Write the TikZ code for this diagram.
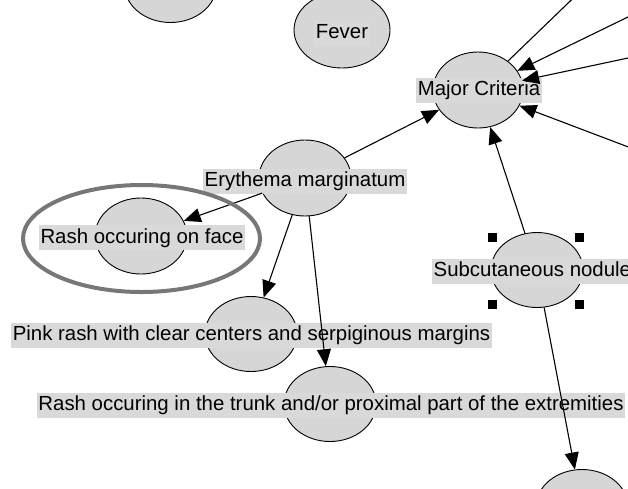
\documentclass[tikz,border=0pt]{standalone}
\usepackage{fontspec}
\setmainfont{Liberation Sans}
\usetikzlibrary{shapes.geometric,arrows.meta}
\definecolor{nodegray}{HTML}{D6D6D6}
\definecolor{labelgray}{HTML}{D9D9D9}
\definecolor{ringgray}{HTML}{777777}

\begin{document}
\begin{tikzpicture}[x=1pt,y=-1pt,
  state/.style={ellipse,draw=black,line width=0.9pt,fill=nodegray,
    minimum width=92pt,minimum height=75pt,inner sep=0pt},
  lbl/.style={fill=labelgray,inner xsep=1.5pt,inner ysep=3pt,
    text height=15pt,text depth=4pt,font=\fontsize{20.4}{23}\selectfont},
  link/.style={line width=1.1pt,-{Triangle[length=17pt,width=14pt]}},
  plain/.style={line width=1.1pt},
  handle/.style={fill=black,minimum size=9pt,inner sep=0pt},
  ring/.style={ellipse,draw=ringgray,line width=4pt,inner sep=0pt}
]
\useasboundingbox (0,0) rectangle (628,488);
\clip (0,0) rectangle (628,488);

% states
\node[state] (topleft) at (170.5,-15) {};
\node[state,minimum width=96pt,minimum height=76pt] (fever) at (342,30) {};
\node[state,minimum width=90pt,minimum height=76pt] (major) at (478,90) {};
\node[state,minimum height=76pt] (erythema) at (305,178) {};
\node[state,minimum height=76pt] (face) at (141,236) {};
\node[state] (pink) at (251,334) {};
\node[state] (trunk) at (330,404) {};
\node[state] (subcut) at (537,270) {};
\node[state] (lower) at (582,507) {};

% parents outside the visible area
\coordinate (u1) at (592,-20);
\coordinate (u2) at (660,1.4);
\coordinate (u3) at (660,51.2);
\coordinate (u4) at (660,159);

% labels
\node[lbl] (feverlbl) at (342,33) {Fever};
\node[lbl] (majorlbl) at (479,90) {Major Criteria};
\node[lbl] (erythemalbl) at (305,181) {Erythema marginatum};
\node[lbl] (facelbl) at (142,237.5) {Rash occuring on face};
\node[lbl] (pinklbl) at (251.5,335) {Pink rash with clear centers and serpiginous margins};
\node[lbl] (trunklbl) at (331,405) {Rash occuring in the trunk and/or proximal part of the extremities};
\node[lbl,anchor=west] (subcutlbl) at (432,271) {Subcutaneous nodule};

% links
\draw[plain] (u1) -- (major);
\draw[link] (u2) -- (major);
\draw[link] (u3) -- (major);
\draw[link] (u4) -- (major);
\draw[link] (erythema) -- (major);
\draw[link] (subcut) -- (major);
\draw[link] (erythema) -- (face);
\draw[link] (erythema) -- (pink);
\draw[link] (erythema) -- (trunk);
\draw[link] (subcut) -- (lower);

% selection handles
\node[handle] (h1) at (492,237.5) {};
\node[handle] (h2) at (579.5,237.5) {};
\node[handle] (h3) at (492,304.5) {};
\node[handle] (h4) at (579.5,304.5) {};

% highlight ring
\node[ring,minimum width=237pt,minimum height=107pt] (highlight) at (141.5,238.5) {};
\end{tikzpicture}
\end{document}
